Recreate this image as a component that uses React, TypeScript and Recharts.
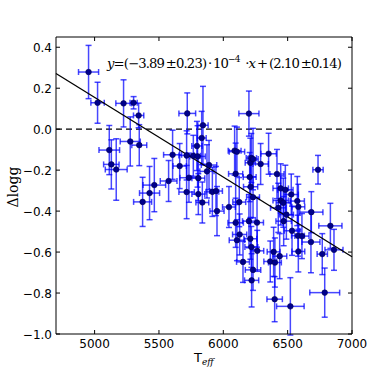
import React from "react";
import {
  ScatterChart,
  Scatter,
  XAxis,
  YAxis,
  ErrorBar,
  ReferenceLine,
  Customized,
} from "recharts";

// Teff values (K)
const teff = [
  4953, 5023, 5114, 5130, 5168, 5225, 5303, 5342, 5277, 5347,
  5373, 5427, 5464, 5575, 5606, 5661, 5720, 5715, 5715, 5733,
  5767, 5795, 5800, 5806, 5806, 5837, 5832, 5842, 5873, 5889,
  5915, 5943, 5951, 6044, 6088, 6106, 6096, 6096, 6106, 6124,
  6127, 6153, 6199, 6205, 6210, 6218, 6231, 6212, 6199, 6210,
  6218, 6231, 6220, 6231, 6262, 6264, 6290, 6352, 6365, 6391,
  6401, 6399, 6417, 6427, 6438, 6446, 6446, 6466, 6469, 6482,
  6490, 6521, 6528, 6534, 6575, 6583, 6580, 6583, 6611, 6684,
  6681, 6736, 6769, 6788, 6832, 6860,
];
// Delta log g values
const dlogg = [
  0.279, 0.129, -0.102, -0.172, -0.197, 0.126, 0.129, 0.067, -0.06, -0.078,
  -0.355, -0.312, -0.273, -0.253, -0.125, -0.18, 0.077, -0.128, -0.307, -0.237,
  -0.13, -0.082, -0.133, -0.239, -0.317, -0.358, -0.043, 0.019, -0.206, -0.175,
  -0.306, -0.302, -0.4, -0.38, -0.105, -0.11, -0.218, -0.457, -0.542, -0.356,
  -0.514, -0.648, 0.076, -0.234, -0.164, -0.141, -0.146, -0.281, -0.449, -0.535,
  -0.575, -0.687, -0.738, -0.332, -0.456, -0.594, -0.17, -0.12, -0.646, -0.599,
  -0.651, -0.83, -0.219, -0.384, -0.62, -0.289, -0.348, -0.359, -0.449, -0.296,
  -0.417, -0.865, -0.319, -0.496, -0.351, -0.379, -0.52, -0.597, -0.522, -0.405,
  -0.551, -0.198, -0.61, -0.798, -0.472, -0.589,
];
// Teff errors
const teffErr = [
  78, 52, 80, 60, 85, 60, 28, 40, 78, 58,
  70, 78, 88, 65, 70, 52, 65, 60, 60, 70,
  55, 40, 60, 50, 50, 50, 35, 40, 55, 60,
  50, 50, 55, 50, 50, 60, 55, 60, 60, 50,
  55, 50, 78, 50, 40, 40, 40, 55, 50, 50,
  50, 60, 55, 50, 50, 50, 60, 60, 50, 50,
  50, 60, 55, 60, 55, 60, 60, 55, 60, 60,
  55, 107, 55, 60, 55, 50, 50, 50, 55, 90,
  70, 40, 40, 116, 90, 70,
];
// Delta log g errors
const dloggErr = [
  0.13, 0.1, 0.12, 0.12, 0.15, 0.115, 0.03, 0.06, 0.12, 0.1,
  0.12, 0.13, 0.13, 0.1, 0.12, 0.11, 0.1, 0.12, 0.13, 0.12,
  0.1, 0.12, 0.15, 0.11, 0.1, 0.1, 0.13, 0.19, 0.13, 0.12,
  0.12, 0.12, 0.12, 0.1, 0.12, 0.12, 0.15, 0.12, 0.1, 0.12,
  0.1, 0.1, 0.11, 0.12, 0.12, 0.12, 0.15, 0.15, 0.13, 0.1,
  0.1, 0.1, 0.13, 0.1, 0.12, 0.1, 0.1, 0.1, 0.1, 0.12,
  0.12, 0.11, 0.12, 0.12, 0.11, 0.12, 0.12, 0.12, 0.12, 0.12,
  0.12, 0.14, 0.1, 0.12, 0.12, 0.11, 0.1, 0.1, 0.11, 0.1,
  0.15, 0.07, 0.1, 0.12, 0.11, 0.1,
];

const xTicks = [5000, 5500, 6000, 6500, 7000];
const yTicks = [-1.0, -0.8, -0.6, -0.4, -0.2, 0.0, 0.2, 0.4];
const xDomain = [4700, 7000];
const yDomain = [-1.0, 0.45];

// Linear fit: y = slope * x + intercept
const slope = -3.89e-4;
const intercept = 2.1;

const data = teff.map((t, i) => ({
  x: t,
  y: dlogg[i],
  ex: teffErr[i],
  ey: dloggErr[i],
}));

const TICK_FONT = "'DejaVu Sans', sans-serif";
const MATH_FONT = "'DejaVu Serif', 'Liberation Serif', serif";

const fmtY = (v: number) => {
  const s = Math.abs(v).toFixed(1);
  return v < 0 ? "\u2212" + s : s;
};

const BottomTick = (props: any) => {
  const { x, y, payload } = props;
  return (
    <g>
      <line x1={x} x2={x} y1={y} y2={y - 4} stroke="#000" strokeWidth={1} />
      <text x={x} y={y + 14} textAnchor="middle" fontFamily={TICK_FONT} fontSize={12} fill="#000">
        {payload.value}
      </text>
    </g>
  );
};
const TopTick = (props: any) => {
  const { x, y } = props;
  return <line x1={x} x2={x} y1={y} y2={y + 4} stroke="#000" strokeWidth={1} />;
};
const LeftTick = (props: any) => {
  const { x, y, payload } = props;
  return (
    <g>
      <line x1={x} x2={x + 4} y1={y} y2={y} stroke="#000" strokeWidth={1} />
      <text x={x - 4} y={y + 4.5} textAnchor="end" fontFamily={TICK_FONT} fontSize={12} fill="#000">
        {fmtY(payload.value)}
      </text>
    </g>
  );
};
const RightTick = (props: any) => {
  const { x, y } = props;
  return <line x1={x} x2={x - 4} y1={y} y2={y} stroke="#000" strokeWidth={1} />;
};

const Dot = (props: any) => {
  const { cx, cy } = props;
  if (cx == null || cy == null) return null;
  return <circle cx={cx} cy={cy} r={2.8} fill="#00008c" stroke="#000050" strokeWidth={0.6} />;
};

const Labels = () => (
  <g>
    <text
      x={107}
      y={68}
      fontFamily={MATH_FONT}
      fontSize={13.2}
      fill="#000"
      textLength={235}
      lengthAdjust="spacing"
    >
      <tspan fontStyle="italic">y</tspan>
      <tspan>{"=(\u22123.89\u2009\u00b10.23)\u2009\u00b7\u200910"}</tspan>
      <tspan fontSize={9} dy={-6}>{"\u22124"}</tspan>
      <tspan dy={6}>{"\u2002\u00b7"}</tspan>
      <tspan fontStyle="italic">x</tspan>
      <tspan>{"\u2009+\u2009(2.10\u2009\u00b10.14)"}</tspan>
    </text>
    <text
      x={0}
      y={0}
      transform="translate(18,187) rotate(-90)"
      textAnchor="middle"
      fontFamily={MATH_FONT}
      fontSize={14}
      fill="#000"
    >
      {"\u0394logg"}
    </text>
    <text x={194} y={362} fontFamily={TICK_FONT} fontSize={13} fill="#000">
      T
      <tspan fontFamily={MATH_FONT} fontStyle="italic" fontSize={9} dy={3}>
        eff
      </tspan>
    </text>
  </g>
);

export default function App() {
  return (
    <div style={{ position: "absolute", left: 0, top: 0, width: 371, height: 371, background: "#fff" }}>
      <ScatterChart
        width={371}
        height={371}
        margin={{ top: 36, right: 18, bottom: 7, left: 6 }}
      >
        <XAxis
          type="number"
          dataKey="x"
          domain={xDomain}
          ticks={xTicks}
          allowDataOverflow
          height={30}
          tickSize={0}
          tickMargin={0}
          tickLine={false}
          axisLine={{ stroke: "#000", strokeWidth: 1 }}
          tick={<BottomTick />}
        />
        <XAxis
          xAxisId="top"
          orientation="top"
          type="number"
          dataKey="x"
          domain={xDomain}
          ticks={xTicks}
          allowDataOverflow
          height={1}
          tickSize={0}
          tickMargin={0}
          tickLine={false}
          axisLine={{ stroke: "#000", strokeWidth: 1 }}
          tick={<TopTick />}
        />
        <YAxis
          type="number"
          dataKey="y"
          domain={yDomain}
          ticks={yTicks}
          allowDataOverflow
          width={50}
          tickSize={0}
          tickMargin={0}
          tickLine={false}
          axisLine={{ stroke: "#000", strokeWidth: 1 }}
          tick={<LeftTick />}
        />
        <YAxis
          yAxisId="right"
          orientation="right"
          type="number"
          dataKey="y"
          domain={yDomain}
          ticks={yTicks}
          allowDataOverflow
          width={1}
          tickSize={0}
          tickMargin={0}
          tickLine={false}
          axisLine={{ stroke: "#000", strokeWidth: 1 }}
          tick={<RightTick />}
        />
        <ReferenceLine y={0} stroke="#000" strokeWidth={1.3} strokeDasharray="6 4" />
        <Scatter data={data} isAnimationActive={false} shape={<Dot />}>
          <ErrorBar dataKey="ex" direction="x" width={3} stroke="#0000ff" strokeOpacity={0.72} strokeWidth={1.5} />
          <ErrorBar dataKey="ey" direction="y" width={3} stroke="#0000ff" strokeOpacity={0.72} strokeWidth={1.5} />
        </Scatter>
        <ReferenceLine
          segment={[
            { x: xDomain[0], y: slope * xDomain[0] + intercept },
            { x: xDomain[1], y: slope * xDomain[1] + intercept },
          ]}
          stroke="#000"
          strokeWidth={1.3}
          ifOverflow="visible"
        />
        <Customized component={Labels} />
      </ScatterChart>
    </div>
  );
}
